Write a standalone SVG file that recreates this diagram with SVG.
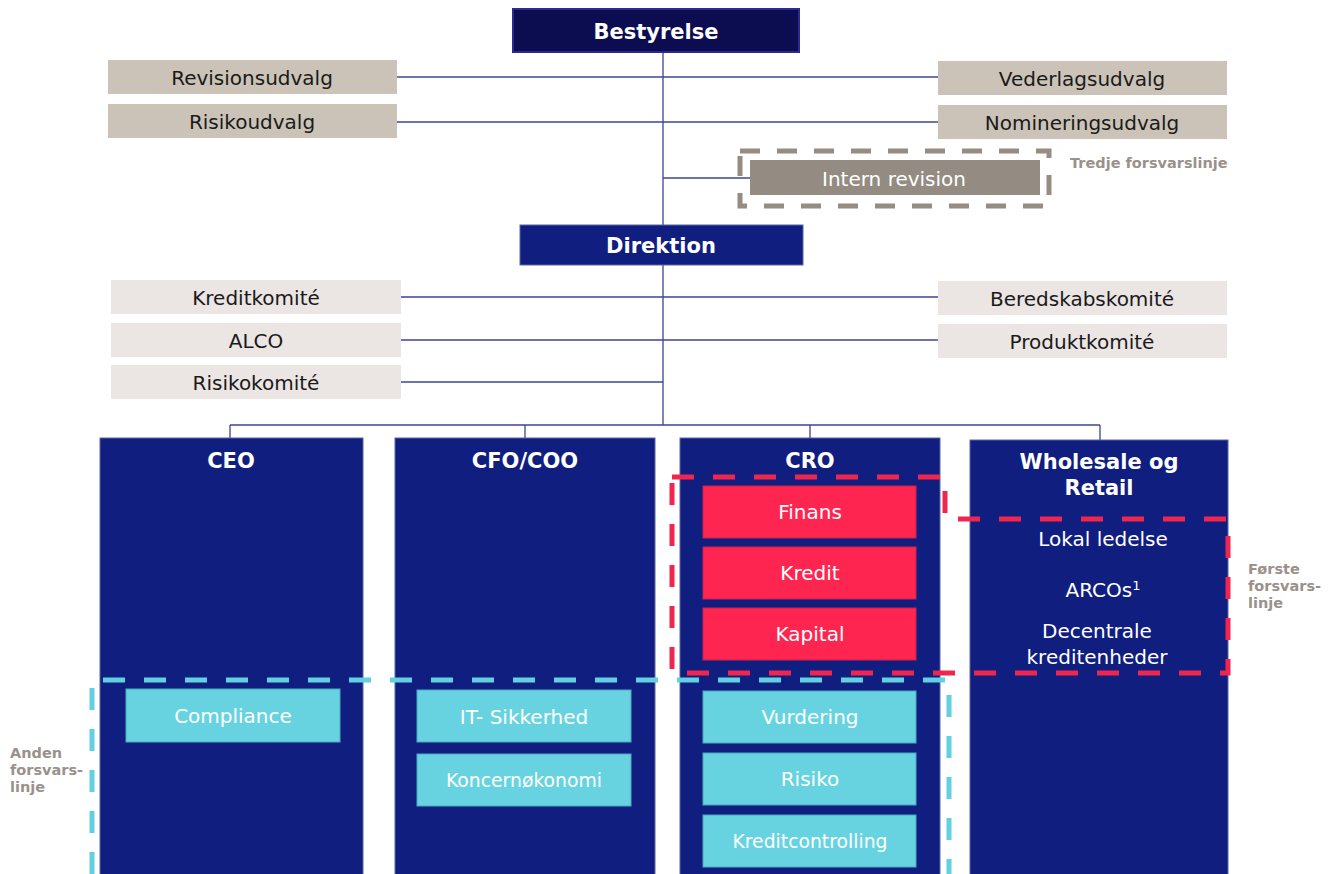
<svg xmlns="http://www.w3.org/2000/svg" width="1328" height="874" viewBox="0 0 1328 874">
<style>
text{font-family:"DejaVu Sans","Liberation Sans",sans-serif;text-anchor:middle}
.t{font-size:20px;fill:#1a1a1a}
.w{font-size:20px;fill:#ffffff}
.s{font-size:18.8px}
.b{font-size:21px;font-weight:bold;fill:#ffffff}
.g{font-size:14.5px;font-weight:bold;fill:#9a918a;text-anchor:start}
.tan{fill:#cbc3b7}
.lt{fill:#ebe5e3}
.col{fill:#101e80;stroke:#5a64a8;stroke-width:1}
.red{fill:#fe2650;stroke:#d02048;stroke-width:1}
.cy{fill:#68d3e0;stroke:#4aa8c0;stroke-width:1}
.ln{stroke:#3c4596;stroke-width:1.3;fill:none}
</style>
<g id="connectors">
<path class="ln" d="M663,52 V225 M397,77 H938 M397,122 H938 M663,178 H750 M663,265 V425 M401,297 H938 M401,340 H938 M401,382 H663 M230,425 H1100 M230,425 V438 M525,425 V438 M810,425 V438 M1100,425 V440"/>
</g>
<g id="bestyrelse"><rect x="513" y="9" width="286" height="43" fill="#0c0c50" stroke="#2a2a90" stroke-width="2"/><text class="b" x="656" y="39">Bestyrelse</text></g>
<g id="revisionsudvalg"><rect class="tan" x="108" y="60" width="289" height="34"/><text class="t" x="252" y="85">Revisionsudvalg</text></g>
<g id="risikoudvalg"><rect class="tan" x="108" y="104" width="289" height="34"/><text class="t" x="252" y="129">Risikoudvalg</text></g>
<g id="vederlagsudvalg"><rect class="tan" x="938" y="61" width="289" height="34"/><text class="t" x="1082" y="86">Vederlagsudvalg</text></g>
<g id="nomineringsudvalg"><rect class="tan" x="938" y="105" width="289" height="34"/><text class="t" x="1082" y="130">Nomineringsudvalg</text></g>
<g id="intern-revision"><rect x="740" y="151" width="309" height="55" fill="none" stroke="#958c82" stroke-width="5" stroke-dasharray="20,17"/><rect x="750" y="160" width="290" height="35" fill="#948b83"/><text class="w" x="894" y="186">Intern revision</text></g>
<g id="tredje"><text class="g" x="1070" y="168">Tredje forsvarslinje</text></g>
<g id="direktion"><rect x="520" y="225" width="283" height="40" fill="#101e80" stroke="#5a64a8" stroke-width="1"/><text class="b" x="661" y="253">Direktion</text></g>
<g id="kreditkomite"><rect class="lt" x="111" y="280" width="290" height="34"/><text class="t" x="256" y="305">Kreditkomité</text></g>
<g id="alco"><rect class="lt" x="111" y="323" width="290" height="34"/><text class="t" x="256" y="348">ALCO</text></g>
<g id="risikokomite"><rect class="lt" x="111" y="365" width="290" height="34"/><text class="t" x="256" y="390">Risikokomité</text></g>
<g id="beredskabskomite"><rect class="lt" x="938" y="281" width="289" height="34"/><text class="t" x="1082" y="306">Beredskabskomité</text></g>
<g id="produktkomite"><rect class="lt" x="938" y="324" width="289" height="34"/><text class="t" x="1082" y="349">Produktkomité</text></g>
<g id="ceo"><rect class="col" x="100" y="438" width="263" height="440"/><text class="b" x="231" y="468">CEO</text></g>
<g id="cfo"><rect class="col" x="395" y="438" width="260" height="440"/><text class="b" x="525" y="468">CFO/COO</text></g>
<g id="cro"><rect class="col" x="680" y="438" width="260" height="440"/><text class="b" x="810" y="468">CRO</text></g>
<g id="wholesale"><rect class="col" x="970" y="440" width="258" height="440"/><text class="b" x="1099" y="469">Wholesale og</text><text class="b" x="1099" y="495">Retail</text>
<text class="w" x="1103" y="546">Lokal ledelse</text><text class="w" x="1103" y="597">ARCOs<tspan font-size="13" dy="-7">1</tspan></text><text class="w" x="1097" y="638">Decentrale</text><text class="w" x="1097" y="664">kreditenheder</text></g>
<g id="finans"><rect class="red" x="703" y="486" width="213" height="52"/><text class="w" x="810" y="519">Finans</text></g>
<g id="kredit"><rect class="red" x="703" y="547" width="213" height="52"/><text class="w" x="810" y="580">Kredit</text></g>
<g id="kapital"><rect class="red" x="703" y="608" width="213" height="52"/><text class="w" x="810" y="641">Kapital</text></g>
<g id="compliance"><rect class="cy" x="126" y="689" width="214" height="53"/><text class="w" x="233" y="723">Compliance</text></g>
<g id="it-sikkerhed"><rect class="cy" x="417" y="690" width="214" height="52"/><text class="w" x="524" y="724">IT- Sikkerhed</text></g>
<g id="koncernokonomi"><rect class="cy" x="417" y="754" width="214" height="52"/><text class="w s" x="524" y="787">Koncernøkonomi</text></g>
<g id="vurdering"><rect class="cy" x="703" y="691" width="213" height="52"/><text class="w" x="810" y="724">Vurdering</text></g>
<g id="risiko"><rect class="cy" x="703" y="753" width="213" height="52"/><text class="w" x="810" y="786">Risiko</text></g>
<g id="kreditcontrolling"><rect class="cy" x="703" y="815" width="213" height="52"/><text class="w s" x="810" y="848">Kreditcontrolling</text></g>
<g id="forste-forsvarslinje"><path d="M672,477 H945 V519 H1228 V673 H672 Z" fill="none" stroke="#f0264f" stroke-width="5" stroke-dasharray="22,19"/>
<text class="g" x="1248" y="574">Første</text><text class="g" x="1248" y="591">forsvars-</text><text class="g" x="1248" y="608">linje</text></g>
<g id="anden-forsvarslinje"><path d="M92,874 V680 H949 V874" fill="none" stroke="#62d0e0" stroke-width="5" stroke-dasharray="22,19"/>
<text class="g" x="10" y="758">Anden</text><text class="g" x="10" y="775">forsvars-</text><text class="g" x="10" y="792">linje</text></g>
</svg>
